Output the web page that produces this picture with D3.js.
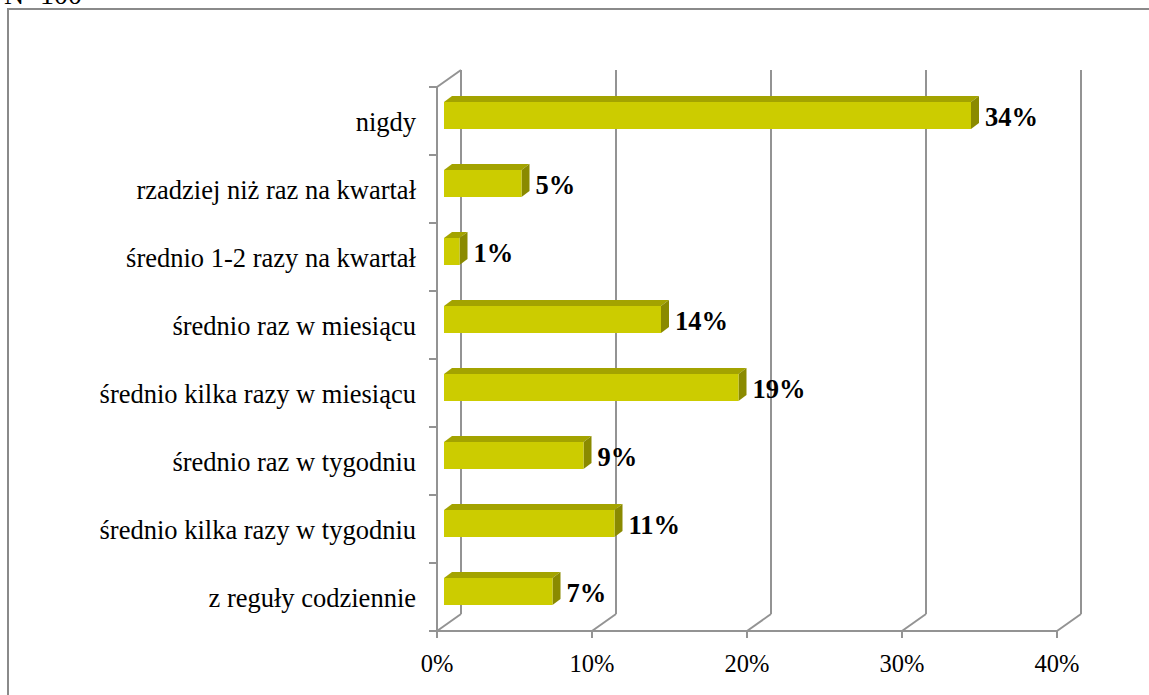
<!DOCTYPE html>
<html><head><meta charset="utf-8">
<script src="https://cdn.jsdelivr.net/npm/d3@7/dist/d3.min.js"></script>
<style>body{margin:0;background:#fff}svg{display:block}</style>
</head><body>
<script>
const categories = ["nigdy","rzadziej niż raz na kwartał","średnio 1-2 razy na kwartał","średnio raz w miesiącu","średnio kilka razy w miesiącu","średnio raz w tygodniu","średnio kilka razy w tygodniu","z reguły codziennie"];
const values = [34,5,1,14,19,9,11,7];
const tickValues = [0,10,20,30,40];
const tickLabels = ["0%","10%","20%","30%","40%"];
const note = "N=100";

const W=1149,H=695;
const svg=d3.select("body").append("svg").attr("width",W).attr("height",H);
const serif="'Liberation Serif','Times New Roman',serif";
const grid="#939393";

// frame
svg.append("rect").attr("x",8).attr("y",9).attr("width",W+20).attr("height",H+20)
  .attr("fill","none").attr("stroke","#8a8a8a").attr("stroke-width",2);
svg.append("text").attr("x",82).attr("y",4).attr("text-anchor","end")
  .attr("font-family",serif).attr("font-size",28).text(note);

const x=d3.scaleLinear().domain([0,40]).range([437,1057]);
const y=d3.scaleBand().domain(categories).range([87,631]);
const DX=24, DY=-17;

const g=svg.append("g");
// back gridlines
tickValues.forEach(v=>{
  g.append("line").attr("x1",x(v)+DX).attr("x2",x(v)+DX).attr("y1",y.range()[0]+DY).attr("y2",y.range()[1]+DY)
   .attr("stroke",grid).attr("stroke-width",2);
  g.append("line").attr("x1",x(v)).attr("x2",x(v)+DX).attr("y1",631).attr("y2",631+DY)
   .attr("stroke",grid).attr("stroke-width",2);
  g.append("line").attr("x1",x(v)).attr("x2",x(v)).attr("y1",631).attr("y2",638)
   .attr("stroke",grid).attr("stroke-width",2);
});
// floor front edge
g.append("line").attr("x1",x(0)).attr("x2",x(40)).attr("y1",631).attr("y2",631).attr("stroke",grid).attr("stroke-width",2);
// left wall
g.append("line").attr("x1",x(0)).attr("x2",x(0)).attr("y1",87).attr("y2",631).attr("stroke",grid).attr("stroke-width",2);
g.append("line").attr("x1",x(0)).attr("x2",x(0)+DX).attr("y1",87).attr("y2",87+DY).attr("stroke",grid).attr("stroke-width",2);
const bounds=categories.map(c=>y(c)).concat([y.range()[1]]);
bounds.forEach(b=>{
  g.append("line").attr("x1",x(0)-8).attr("x2",x(0)).attr("y1",b).attr("y2",b).attr("stroke",grid).attr("stroke-width",2);
});

// category labels
svg.selectAll("text.cat").data(categories).join("text").attr("class","cat")
  .attr("x",416).attr("y",d=>y(d)+y.bandwidth()/2+10).attr("text-anchor","end")
  .attr("font-family",serif).attr("font-size",26.5).attr("fill","#000").text(d=>d);

// axis labels
svg.selectAll("text.tick").data(tickValues).join("text").attr("class","tick")
  .attr("x",d=>x(d)).attr("y",672).attr("text-anchor","middle")
  .attr("font-family",serif).attr("font-size",24.5).attr("fill","#000").text((d,i)=>tickLabels[i]);

// bars
const off=7, bd=8, bh=6;
const bars=svg.selectAll("g.bar").data(categories.map((c,i)=>({c,v:values[i]}))).join("g").attr("class","bar");
bars.each(function(d){
  const s=d3.select(this);
  const c=y(d.c)+y.bandwidth()/2;
  const x0=x(0)+off, x1=x(d.v)+off, y0=c-19, y1=c+8;
  s.append("path").attr("d",`M${x0},${y0}L${x0+bd},${y0-bh}L${x1+bd},${y0-bh}L${x1},${y0}Z`).attr("fill","#a3a300");
  s.append("path").attr("d",`M${x1},${y0}L${x1+bd},${y0-bh}L${x1+bd},${y1-bh}L${x1},${y1}Z`).attr("fill","#8a8a00");
  s.append("rect").attr("x",x0).attr("y",y0).attr("width",x1-x0).attr("height",y1-y0).attr("fill","#cccc00");
  s.append("text").attr("x",x1+bd+6).attr("y",c+5).attr("font-family",serif).attr("font-weight","bold")
   .attr("font-size",26.5).attr("fill","#000").text(d.v+"%");
});
</script>
</body></html>
